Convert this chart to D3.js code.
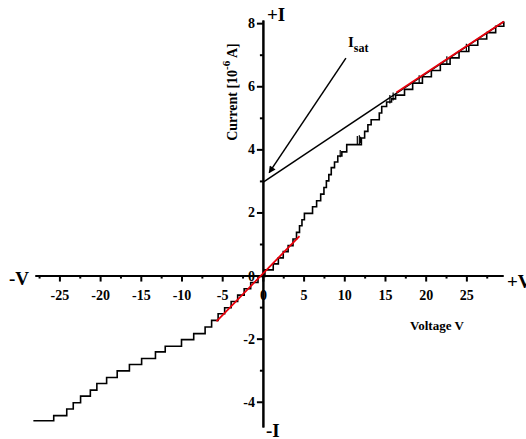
<!DOCTYPE html>
<html>
<head>
<meta charset="utf-8">
<script src="https://cdn.jsdelivr.net/npm/d3@7"></script>
<style>
    body { margin: 0; background: #fff; }
    text { font-family: "Liberation Serif", "Times New Roman", serif; font-weight: bold; }
</style>
</head>
<body>
<div id="chart"></div>
<script>
// ---------------------------------------------------------------
// Data (voltage V, current 10^-6 A)
// ---------------------------------------------------------------
const xMajor = [-25, -20, -15, -10, -5, 0, 5, 10, 15, 20, 25];
const xMinor = [-27.5, -22.5, -17.5, -12.5, -7.5, -2.5, 2.5, 7.5, 12.5, 17.5, 22.5, 27.5];
const yMajor = [-4, -2, 0, 2, 4, 6, 8];
const yMinor = [-3, -1, 1, 3, 5, 7];

// staircase measurement: each point starts a flat step
const steps = [
    [-28.2, -4.60], [-25.7, -4.44], [-24.1, -4.23], [-23.3, -4.03], [-22.4, -3.82],
    [-21.2, -3.63], [-20.4, -3.42], [-19.2, -3.23], [-17.9, -3.02], [-16.4, -2.82],
    [-14.9, -2.63], [-13.2, -2.42], [-12.0, -2.24], [-10.0, -2.03], [-8.5, -1.84],
    [-7.1, -1.63], [-6.3, -1.42], [-5.5, -1.21], [-4.7, -1.02], [-3.9, -0.82],
    [-3.1, -0.62], [-2.3, -0.42], [-1.5, -0.22], [-0.6, -0.03], [0.25, 0.18],
    [1.27, 0.37], [1.9, 0.56], [2.5, 0.76], [3.1, 0.95], [3.7, 1.16],
    [4.13, 1.37], [4.5, 1.58], [4.8, 1.77], [5.1, 1.97], [6.1, 2.18],
    [6.6, 2.37], [7.1, 2.58], [7.5, 2.79], [7.8, 3.0], [8.1, 3.2],
    [8.4, 3.42], [8.8, 3.6], [9.2, 3.79], [9.7, 3.92], [10.3, 4.15],
    [12.1, 4.36], [12.5, 4.57], [12.9, 4.78], [13.3, 4.94], [14.3, 5.15],
    [14.6, 5.36], [15.2, 5.5], [15.8, 5.6], [16.3, 5.72], [17.4, 5.9],
    [18.4, 6.1], [19.6, 6.3], [20.7, 6.5], [21.8, 6.7], [23.0, 6.9],
    [24.1, 7.1], [25.3, 7.3], [26.4, 7.5], [27.5, 7.7], [28.6, 7.9],
    [29.6, 8.05]
];

// noisy vertical spikes on some steps: [V, I from, I to]
const spikes = [
    [9.5, 3.75, 3.98], [11.6, 4.15, 4.42], [11.85, 4.15, 4.45], [12.0, 4.2, 4.4],
    [15.6, 5.45, 5.72], [16.0, 5.55, 5.8], [19.2, 6.1, 6.35], [22.6, 6.7, 6.95],
    [25.0, 7.1, 7.35]
];

// fitted lines
const fitOrigin = [[-5.7, -1.45], [4.5, 1.25]];
const fitSat = [[16.4, 5.8], [29.6, 8.05]];
const tangent = [[0, 2.95], [29.6, 8.05]];
const arrow = [[10.2, 6.89], [0.77, 3.26]];

// ---------------------------------------------------------------
// Canvas
// ---------------------------------------------------------------
const width = 526, height = 439;

const svg = d3.select("#chart").append("svg")
    .attr("width", width)
    .attr("height", height);

const x = d3.scaleLinear().domain([-28, 29.5]).range([35, 503]);
const y = d3.scaleLinear().domain([-4.8, 8.1]).range([427, 20]);

svg.append("defs").append("marker")
    .attr("id", "head")
    .attr("viewBox", "0 0 10 10")
    .attr("refX", 9).attr("refY", 5)
    .attr("markerWidth", 9).attr("markerHeight", 7)
    .attr("markerUnits", "userSpaceOnUse")
    .attr("orient", "auto")
    .append("path")
    .attr("d", "M0,0 L10,5 L0,10 z")
    .attr("fill", "#000");

// ---------------------------------------------------------------
// Axes through the origin
// ---------------------------------------------------------------
function styleAxis(g) {
    g.select(".domain").attr("stroke-width", 2);
    g.selectAll(".tick line").attr("stroke-width", 2);
    g.selectAll(".tick text")
        .attr("fill", "#000")
        .style("font-size", "14px")
        .style("font-family", "Liberation Serif")
        .style("font-weight", "bold");
}

// plain hyphen for negatives, like the original plot
const fmt = d => String(d);

const gx = svg.append("g").attr("transform", `translate(0,${y(0)})`);
gx.append("g")
    .call(d3.axisBottom(x).tickValues(xMinor).tickSize(3).tickSizeOuter(0).tickFormat(""))
    .call(styleAxis);
gx.append("g")
    .call(d3.axisBottom(x).tickValues(xMajor).tickSize(6).tickSizeOuter(0).tickPadding(9).tickFormat(fmt))
    .call(styleAxis);

const gy = svg.append("g").attr("transform", `translate(${x(0)},0)`);
gy.append("g")
    .call(d3.axisLeft(y).tickValues(yMinor).tickSize(3).tickSizeOuter(0).tickFormat(""))
    .call(styleAxis);
gy.append("g")
    .call(d3.axisLeft(y).tickValues(yMajor).tickSize(6).tickSizeOuter(0).tickPadding(2).tickFormat(fmt))
    .call(styleAxis);

// ---------------------------------------------------------------
// Curves
// ---------------------------------------------------------------
const line = d3.line().x(d => x(d[0])).y(d => y(d[1]));

svg.append("path")
    .datum(steps)
    .attr("d", line.curve(d3.curveStepAfter))
    .attr("fill", "none")
    .attr("stroke", "#000")
    .attr("stroke-width", 1.6);

svg.selectAll(".spike")
    .data(spikes)
    .join("line")
    .attr("class", "spike")
    .attr("x1", d => x(d[0])).attr("x2", d => x(d[0]))
    .attr("y1", d => y(d[1])).attr("y2", d => y(d[2]))
    .attr("stroke", "#000")
    .attr("stroke-width", 1.2);

const straight = d3.line().x(d => x(d[0])).y(d => y(d[1]));

svg.append("path")
    .datum(tangent)
    .attr("d", straight)
    .attr("stroke", "#000")
    .attr("stroke-width", 1.5);

[fitOrigin, fitSat].forEach(seg => {
    svg.append("path")
        .datum(seg)
        .attr("d", straight)
        .attr("stroke", "#e8000b")
        .attr("stroke-width", 1.8);
});

svg.append("path")
    .datum(arrow)
    .attr("d", straight)
    .attr("stroke", "#000")
    .attr("stroke-width", 1.5)
    .attr("marker-end", "url(#head)");

// ---------------------------------------------------------------
// Labels
// ---------------------------------------------------------------
function label(txt, px, py, size, anchor = "start") {
    return svg.append("text")
        .attr("x", px).attr("y", py)
        .attr("text-anchor", anchor)
        .style("font-size", size + "px")
        .text(txt);
}

label("-V", 9, 285, 19);
label("+V", 507, 288, 19);
label("+I", 267, 21, 19);
label("-I", 266, 437, 19);

label("Voltage V", 410, 330, 13);

const isat = svg.append("text")
    .attr("x", 348).attr("y", 47)
    .style("font-size", "15px");
isat.append("tspan").text("I");
isat.append("tspan").attr("dy", 5).style("font-size", "12px").text("sat");

const ylab = svg.append("text")
    .attr("transform", `translate(237,92) rotate(-90)`)
    .attr("text-anchor", "middle")
    .style("font-size", "14px");
ylab.append("tspan").text("Current [10");
ylab.append("tspan").attr("dy", -7).style("font-size", "11px").text("-6");
ylab.append("tspan").attr("dy", 7).text(" A]");
</script>
</body>
</html>
